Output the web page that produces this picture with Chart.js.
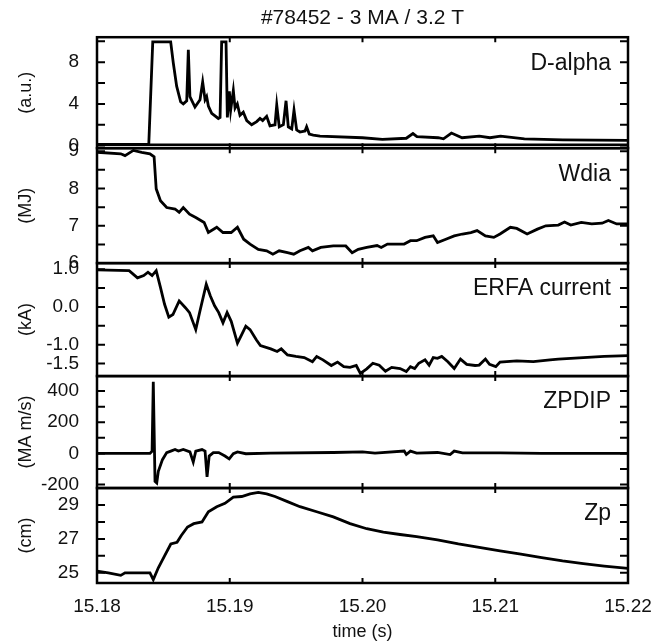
<!DOCTYPE html>
<html>
<head>
<meta charset="utf-8">
<title>#78452 - 3 MA / 3.2 T</title>
<script src="https://cdn.jsdelivr.net/npm/chart.js"></script>
<style>
  html, body { margin: 0; padding: 0; background: #fff; }
</style>
</head>
<body>
<canvas id="shotChart" width="651" height="644"></canvas>
<script>
/* ======================================
   Shot #78452 - five stacked time traces
   ====================================== */

/* === 1. DATA === */
const dalphaT = [15.1800, 15.1839, 15.1842, 15.18555, 15.18575, 15.1860, 15.1863, 15.1865, 15.18676, 15.18688,
  15.1870, 15.18738, 15.18776, 15.18796, 15.18814, 15.18826, 15.18839, 15.18864, 15.18914, 15.18927,
  15.18939, 15.18972, 15.18982, 15.18997, 15.19007, 15.19027, 15.19040, 15.19057, 15.19077, 15.19102,
  15.19128, 15.19165, 15.19203, 15.19228, 15.19248, 15.19278, 15.19303, 15.19341, 15.19354, 15.19373,
  15.19404, 15.19424, 15.19441, 15.19467, 15.19484, 15.19504, 15.19529, 15.19567, 15.19579, 15.19599,
  15.19629, 15.19680, 15.2000, 15.2015, 15.2033, 15.2038, 15.2041, 15.2057, 15.2061, 15.2067,
  15.2075, 15.2088, 15.2096, 15.2104, 15.2122, 15.2151, 15.2200];
const dalphaV = [0.1, 0.1, 9.95, 9.95, 7.9, 5.7, 4.2, 4.0, 4.3, 9.2,
  4.7, 3.7, 4.4, 6.1, 4.4, 4.7, 3.8, 3.1, 2.6, 2.7,
  9.95, 9.95, 2.7, 5.2, 3.4, 5.3, 3.6, 4.0, 2.9, 3.2,
  2.4, 2.0, 2.3, 2.6, 2.4, 2.8, 1.9, 2.0, 3.9, 1.8,
  2.0, 4.3, 1.8, 1.6, 3.4, 1.5, 1.3, 1.4, 1.8, 1.1,
  1.0, 0.9, 0.75, 0.6, 0.7, 1.15, 0.85, 0.75, 0.65, 1.2,
  0.75, 0.9, 0.75, 0.9, 0.65, 0.55, 0.5];

const wdiaT = [15.1800, 15.18179, 15.18211, 15.18274, 15.18337, 15.18399, 15.18430, 15.18446, 15.18478, 15.18525,
  15.18588, 15.18619, 15.18650, 15.18697, 15.18744, 15.18807, 15.18839, 15.18902, 15.18949, 15.19011,
  15.19058, 15.19105, 15.19153, 15.19215, 15.19278, 15.19325, 15.19372, 15.19435, 15.19482, 15.19529,
  15.19592, 15.19623, 15.19686, 15.19780, 15.19874, 15.19922, 15.19968, 15.20032, 15.20110, 15.20141,
  15.20188, 15.20251, 15.20314, 15.20361, 15.20408, 15.20471, 15.20533, 15.20565, 15.20628, 15.20691,
  15.20753, 15.20816, 15.20863, 15.20926, 15.20989, 15.21036, 15.21114, 15.21162, 15.21240, 15.21318,
  15.21381, 15.21475, 15.21522, 15.21569, 15.21648, 15.21727, 15.21805, 15.21852, 15.21915, 15.2200];
const wdiaV = [8.97, 8.93, 8.88, 9.02, 8.97, 8.93, 8.85, 7.99, 7.67, 7.49,
  7.45, 7.36, 7.49, 7.31, 7.22, 7.09, 6.82, 6.96, 6.82, 6.82,
  6.96, 6.64, 6.51, 6.37, 6.33, 6.24, 6.33, 6.28, 6.24, 6.33,
  6.42, 6.33, 6.42, 6.46, 6.46, 6.28, 6.37, 6.42, 6.47, 6.42,
  6.51, 6.51, 6.51, 6.60, 6.60, 6.69, 6.73, 6.55, 6.64, 6.73,
  6.78, 6.82, 6.87, 6.73, 6.69, 6.78, 6.96, 6.93, 6.78, 6.91,
  7.00, 7.02, 7.10, 7.02, 7.09, 7.05, 7.07, 7.14, 7.05, 7.05];

const erfaT = [15.1800, 15.18242, 15.18305, 15.18352, 15.18384, 15.18415, 15.18446, 15.18478, 15.18509, 15.18541,
  15.18572, 15.18619, 15.18666, 15.18697, 15.18744, 15.18776, 15.18823, 15.18854, 15.18886, 15.18917,
  15.18949, 15.18980, 15.19011, 15.19058, 15.19090, 15.19121, 15.19153, 15.19200, 15.19231, 15.19309,
  15.19357, 15.19388, 15.19435, 15.19498, 15.19561, 15.19623, 15.19655, 15.19702, 15.19765, 15.19812,
  15.19859, 15.19906, 15.19953, 15.19984, 15.20032, 15.20078, 15.20126, 15.20173, 15.20220, 15.20283,
  15.20330, 15.20361, 15.20393, 15.20424, 15.20471, 15.20502, 15.20533, 15.20565, 15.20597, 15.20643,
  15.20691, 15.20738, 15.20785, 15.20848, 15.20879, 15.20926, 15.20957, 15.21004, 15.21036, 15.21162,
  15.21287, 15.21413, 15.21475, 15.21663, 15.21821, 15.2200];
const erfaV = [0.98, 0.96, 0.77, 0.83, 0.92, 0.83, 0.96, 0.52, 0.07, -0.27,
  -0.2, 0.16, -0.02, -0.15, -0.6, -0.1, 0.6, 0.29, 0.03, -0.15,
  -0.42, -0.15, -0.38, -0.96, -0.73, -0.51, -0.6, -0.87, -1.02, -1.11,
  -1.18, -1.11, -1.27, -1.31, -1.34, -1.45, -1.31, -1.40, -1.55, -1.46,
  -1.58, -1.60, -1.55, -1.76, -1.64, -1.49, -1.54, -1.70, -1.60, -1.63,
  -1.71, -1.58, -1.63, -1.49, -1.40, -1.54, -1.34, -1.36, -1.31, -1.45,
  -1.63, -1.38, -1.52, -1.55, -1.54, -1.38, -1.52, -1.58, -1.46, -1.43,
  -1.45, -1.40, -1.38, -1.34, -1.31, -1.29];

const zpdipT = [15.1800, 15.18399, 15.18415, 15.18424, 15.18437, 15.18450, 15.18462, 15.18493, 15.18525, 15.18556,
  15.18588, 15.18613, 15.18650, 15.18700, 15.18725, 15.18744, 15.18791, 15.18814, 15.18829, 15.18845,
  15.18876, 15.18917, 15.18964, 15.18996, 15.19027, 15.19058, 15.19121, 15.19309, 15.1978, 15.2000,
  15.20094, 15.20314, 15.2033, 15.20361, 15.20408, 15.20565, 15.2066, 15.20691, 15.20753, 15.21036,
  15.2135, 15.2200];
const zpdipV = [0, 0, 15, 460, -180, -190, -115, -40, 5, 15,
  25, 15, 25, 10, -55, 15, 25, 15, -150, -17,
  5, 5, -17, -35, -2, 10, -2, 2, 6, 10,
  2, 15, -7, 15, 2, 6, -7, 15, 4, 3,
  0, 0];

const zpT = [15.1800, 15.18085, 15.18179, 15.18211, 15.18399, 15.18424, 15.18462, 15.18509, 15.18556, 15.18603,
  15.18635, 15.18682, 15.18729, 15.18791, 15.18839, 15.18902, 15.18964, 15.19027, 15.1909, 15.19153,
  15.19215, 15.19278, 15.19341, 15.19435, 15.19529, 15.19655, 15.1978, 15.19906, 15.20032, 15.20157,
  15.20283, 15.20408, 15.20565, 15.20722, 15.20879, 15.21036, 15.21193, 15.2135, 15.21507, 15.21663,
  15.21821, 15.2200];
const zpV = [25.1, 25.0, 24.85, 25.0, 25.0, 24.6, 25.3, 26.0, 26.7, 26.8,
  27.2, 27.7, 27.9, 28.0, 28.6, 28.9, 29.1, 29.46, 29.5, 29.66,
  29.74, 29.66, 29.5, 29.2, 28.9, 28.6, 28.3, 27.9, 27.6, 27.4,
  27.26, 27.14, 26.94, 26.7, 26.5, 26.3, 26.1, 25.9, 25.7, 25.54,
  25.4, 25.26];

// tick marks (all) and the ones that carry a label
const xTickLabels = [15.18, 15.19, 15.20, 15.21, 15.22];
const dalphaMarks = [0, 2, 4, 6, 8, 10];
const dalphaTicks = [0, 4, 8];
const wdiaMarks = [6, 6.5, 7, 7.5, 8, 8.5, 9];
const wdiaTicks = [6, 7, 8, 9];
const erfaMarks = [1.0, 0.5, 0.0, -0.5, -1.0, -1.5];
const erfaTicks = [1.0, 0.0, -1.0, -1.5];
const zpdipMarks = [400, 300, 200, 100, 0, -100, -200];
const zpdipTicks = [400, 200, 0, -200];
const zpMarks = [25, 26, 27, 28, 29];
const zpTicks = [25, 27, 29];

const panelNames = ["D-alpha", "Wdia", "ERFA current", "ZPDIP", "Zp"];
const unitNames = ["(a.u.)", "(MJ)", "(kA)", "(MA m/s)", "(cm)"];

/* === 2. HELPERS === */
const FONT = "'Liberation Sans', Arial, Helvetica, sans-serif";
const INK = "#111";
const yIds = ["yD", "yW", "yE", "yZ", "yP"];

const toPoints = (t, v) => t.map((x, i) => ({ x: x, y: v[i] }));

function yAxis(i, min, max, marks, shown, decimals, stackWeight) {
  return {
    type: "linear",
    position: "left",
    stack: "shot",
    stackWeight: stackWeight,
    weight: 10 - i,
    min: min,
    max: max,
    bounds: "data",
    grid: { display: false, drawTicks: false },
    border: { display: false },
    title: {
      display: true,
      text: unitNames[i],
      color: INK,
      font: { family: FONT, size: 18 },
      padding: { top: 15, bottom: 0 }
    },
    ticks: {
      autoSkip: false,
      padding: 18,
      color: INK,
      font: { family: FONT, size: 19 },
      callback: (v) => shown.some((s) => Math.abs(s - v) < 1e-6) ? Number(v).toFixed(decimals) : ""
    },
    afterBuildTicks: (scale) => { scale.ticks = marks.map((v) => ({ value: v })); },
    afterFit: (scale) => { scale.width = 97; }
  };
}

/* === 3. FRAMES, INNER TICKS AND PANEL NAMES === */
const panelFrames = {
  id: "panelFrames",
  afterDatasetsDraw(chart) {
    const { ctx, chartArea } = chart;
    const left = chartArea.left, right = chartArea.right;
    const xs = chart.scales.x;
    ctx.save();
    ctx.strokeStyle = "#000";
    yIds.forEach((id, i) => {
      const s = chart.scales[id];
      ctx.lineWidth = 2.5;
      ctx.strokeRect(left, s.top, right - left, s.bottom - s.top);
      if (i === 0) {
        // the first panel has its own bottom edge, just above the second one
        ctx.beginPath();
        ctx.moveTo(left, s.bottom - 3.5);
        ctx.lineTo(right, s.bottom - 3.5);
        ctx.stroke();
      }

      // inner ticks, skipping the ones that sit on the frame
      ctx.lineWidth = 2;
      ctx.beginPath();
      s.ticks.forEach((t) => {
        const y = s.getPixelForValue(t.value);
        if (y - s.top < 2 || s.bottom - y < 2) return;
        ctx.moveTo(left, y); ctx.lineTo(left + 8, y);
        ctx.moveTo(right, y); ctx.lineTo(right - 8, y);
      });
      xs.ticks.forEach((t) => {
        const x = xs.getPixelForValue(t.value);
        ctx.moveTo(x, s.top); ctx.lineTo(x, s.top + 5);
        ctx.moveTo(x, s.bottom); ctx.lineTo(x, s.bottom - 5);
      });
      ctx.stroke();

      ctx.fillStyle = INK;
      ctx.font = "23px " + FONT;
      ctx.textAlign = "right";
      ctx.textBaseline = "middle";
      ctx.fillText(panelNames[i], right - 17, s.top + 26);
    });
    ctx.restore();
  }
};

/* === 4. CHART === */
const series = [
  { id: "yD", data: toPoints(dalphaT, dalphaV) },
  { id: "yW", data: toPoints(wdiaT, wdiaV) },
  { id: "yE", data: toPoints(erfaT, erfaV) },
  { id: "yZ", data: toPoints(zpdipT, zpdipV) },
  { id: "yP", data: toPoints(zpT, zpV) }
];

new Chart(document.getElementById("shotChart").getContext("2d"), {
  type: "line",
  data: {
    datasets: series.map((s, i) => ({
      label: panelNames[i],
      data: s.data,
      yAxisID: s.id,
      xAxisID: "x",
      borderColor: "#000",
      borderWidth: 2.8,
      pointRadius: 0,
      tension: 0,
      fill: false
    }))
  },
  options: {
    responsive: false,
    animation: false,
    devicePixelRatio: 1,
    layout: { padding: { left: 0, right: 23, top: 0, bottom: 0 } },
    plugins: {
      legend: { display: false },
      tooltip: { enabled: false },
      title: {
        display: true,
        fullSize: false,
        text: "#78452 - 3 MA / 3.2 T",
        color: INK,
        font: { family: FONT, size: 21, weight: "normal" },
        padding: { top: 6, bottom: 6 }
      }
    },
    scales: {
      x: {
        type: "linear",
        position: "bottom",
        min: 15.18,
        max: 15.22,
        bounds: "data",
        grid: { display: false, drawTicks: false },
        border: { display: false },
        title: {
          display: true,
          text: "time (s)",
          color: INK,
          font: { family: FONT, size: 18 },
          padding: { top: 0, bottom: 1 }
        },
        ticks: {
          stepSize: 0.01,
          autoSkip: false,
          maxRotation: 0,
          padding: 12,
          color: INK,
          font: { family: FONT, size: 19 },
          callback: (v) => xTickLabels.some((s) => Math.abs(s - v) < 1e-6) ? Number(v).toFixed(2) : ""
        },
        afterFit: (scale) => {
          scale.height = 61;
          scale.paddingLeft = 0;
          scale.paddingRight = 0;
        }
      },
      yD: yAxis(0, -0.25, 10.4, dalphaMarks, dalphaTicks, 0, 111),
      yW: yAxis(1, 6.0, 9.08, wdiaMarks, wdiaTicks, 0, 115),
      yE: yAxis(2, -1.83, 1.16, erfaMarks, erfaTicks, 1, 113),
      yZ: yAxis(3, -222, 496, zpdipMarks, zpdipTicks, 0, 112),
      yP: yAxis(4, 24.4, 30.0, zpMarks, zpTicks, 0, 95)
    }
  },
  plugins: [panelFrames]
});
</script>
</body>
</html>
